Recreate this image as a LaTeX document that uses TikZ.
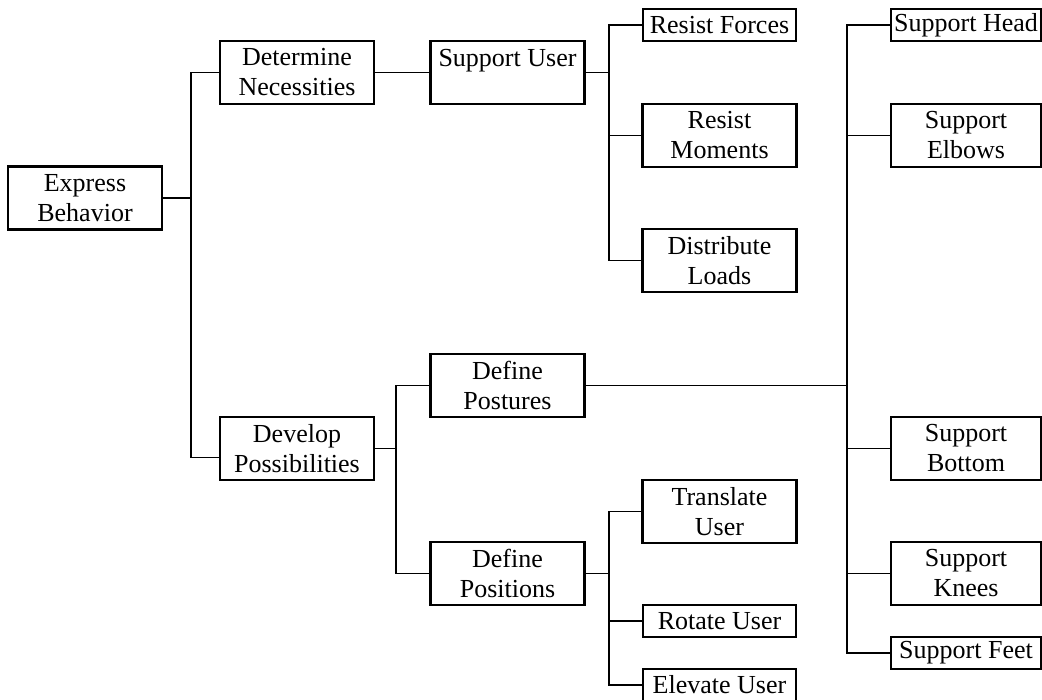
\documentclass[tikz,border=0pt]{standalone}
\usepackage{fontspec}
\setmainfont{Liberation Serif}
\usepackage{tikz}
\usetikzlibrary{positioning}
\tikzstyle{box} = [draw, line width=2.2pt, inner sep=0pt, align=center, font=\fontsize{26}{30}\selectfont]
\tikzstyle{big} = [box, minimum width=154pt, minimum height=63pt]
\tikzstyle{small} = [box, minimum width=153pt, minimum height=32pt]
\tikzstyle{wire} = [line width=1.9pt]

\begin{document}
\begin{tikzpicture}[x=1pt, y=-1pt]
  \useasboundingbox (0,0) rectangle (1042,700);

  % Left side
  \node[big] (eb) at (85,198) {Express\\Behavior};
  \node[big] (dn) at (297,72.5) {Determine\\Necessities};
  \node[big] (dvp) at (297,448.5) {Develop\\Possibilities};
  \node[big] (su) at (507.5,72.5) {Support User\\\mbox{}};
  \node[big] (dpo) at (507.5,385.5) {Define\\Postures};
  \node[big] (dpn) at (507.5,573.5) {Define\\Positions};

  % Middle column
  \node[small] (rf) at (719.5,25) {Resist Forces};
  \node[big] (rm) at (719.5,135.5) {Resist\\Moments};
  \node[big] (dl) at (719.5,260.5) {Distribute\\Loads};
  \node[big] (tu) at (719.5,511.5) {Translate\\User};
  \node[small] (ru) at (719.5,621) {Rotate User};
  \node[small] (elu) at (719.5,685) {Elevate User};

  % Right column
  \node[small, minimum width=150pt] (sh) at (966,25) {Support Head};
  \node[big, minimum width=150pt] (se) at (966,135.5) {Support\\Elbows};
  \node[big, minimum width=150pt] (sb) at (966,448.5) {Support\\Bottom};
  \node[big, minimum width=150pt] (sk) at (966,573.5) {Support\\Knees};
  \node[small, minimum width=150pt] (sf) at (966,653) {Support Feet};

  % Junctions
  \coordinate (j1) at (191,198);
  \coordinate (j2) at (609,72.5);
  \coordinate (j3) at (396,448.5);
  \coordinate (j4) at (609,573.5);
  \coordinate (j5) at (847,385.5);

  % Connectors
  \draw[wire] (eb.east) -- (j1);
  \draw[wire] (dn.west) -| (j1) |- ([yshift=-9pt]dvp.west);
  \draw[wire] (dn.east) -- (su.west);
  \draw[wire] (su.east) -- (j2);
  \draw[wire] (rf.west) -| (j2) |- (dl.west);
  \draw[wire] (rm.west) -- (rm.west -| j2);
  \draw[wire] (dvp.east) -- (j3);
  \draw[wire] (dpo.west) -| (j3) |- (dpn.west);
  \draw[wire] (dpn.east) -- (j4);
  \draw[wire] (tu.west) -| (j4) |- (elu.west);
  \draw[wire] (ru.west) -- (ru.west -| j4);
  \draw[wire] (dpo.east) -- (j5);
  \draw[wire] (sh.west) -| (j5) |- (sf.west);
  \draw[wire] (se.west) -- (se.west -| j5);
  \draw[wire] (sb.west) -- (sb.west -| j5);
  \draw[wire] (sk.west) -- (sk.west -| j5);
\end{tikzpicture}
\end{document}
